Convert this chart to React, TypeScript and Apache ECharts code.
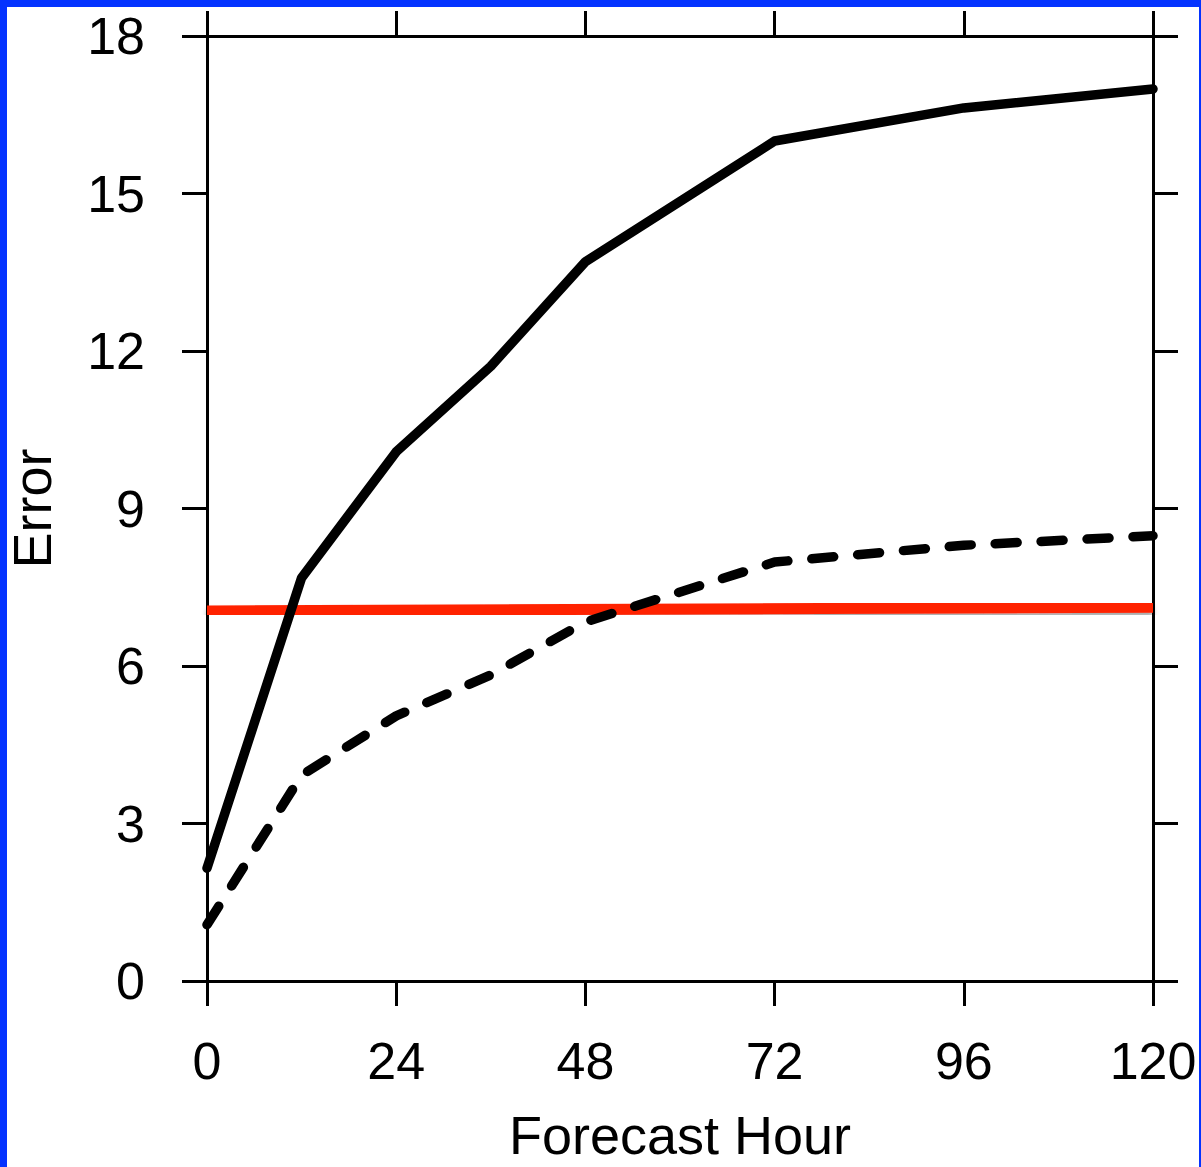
import React, { useEffect, useRef } from "react";
import * as echarts from "echarts";

const hours = [0, 12, 24, 36, 48, 72, 96, 120];
const solidError = [2.15, 7.68, 10.08, 11.71, 13.7, 16.0, 16.63, 16.99];
const dashedError = [1.07, 3.92, 5.05, 5.83, 6.84, 7.98, 8.3, 8.48];
const refHours = [0, 120];
const refError = [7.05, 7.12];
const xTicks = [0, 24, 48, 72, 96, 120];
const yTicks = [0, 3, 6, 9, 12, 15, 18];

const FONT = "'Liberation Sans', Arial, Helvetica, sans-serif";

export default function App() {
  const ref = useRef<HTMLDivElement>(null);
  useEffect(() => {
    if (!ref.current) return;
    const chart = echarts.init(ref.current, null, { renderer: "svg" });
    const axisLine = { show: true, onZero: false, lineStyle: { color: "#000", width: 3 } };
    const axisTick = { show: true, inside: false, length: 25, lineStyle: { color: "#000", width: 3 } };
    const pair = (xs: number[], ys: number[]) => xs.map((x, i) => [x, ys[i]]);
    chart.setOption({
      animation: false,
      backgroundColor: "#fff",
      grid: { left: 207, right: 48, top: 36, bottom: 186, containLabel: false, outerBoundsMode: "none" },
      xAxis: [
        {
          type: "value",
          position: "bottom",
          min: xTicks[0],
          max: xTicks[xTicks.length - 1],
          interval: 24,
          axisLine,
          axisTick,
          splitLine: { show: false },
          axisLabel: { color: "#000", fontSize: 52, fontFamily: FONT, margin: 54 },
          name: "Forecast Hour",
          nameLocation: "middle",
          nameGap: 129,
          nameTextStyle: { color: "#000", fontSize: 54, fontFamily: FONT, lineHeight: 50 },
        },
        {
          type: "value",
          position: "top",
          min: xTicks[0],
          max: xTicks[xTicks.length - 1],
          interval: 24,
          axisLine,
          axisTick,
          splitLine: { show: false },
          axisLabel: { show: false },
        },
      ],
      yAxis: [
        {
          type: "value",
          position: "left",
          min: yTicks[0],
          max: yTicks[yTicks.length - 1],
          interval: 3,
          axisLine,
          axisTick,
          splitLine: { show: false },
          axisLabel: { color: "#000", fontSize: 52, fontFamily: FONT, margin: 62 },
          name: "Error",
          nameLocation: "middle",
          nameGap: 148,
          nameRotate: 90,
          nameTextStyle: { color: "#000", fontSize: 54, fontFamily: FONT },
        },
        {
          type: "value",
          position: "right",
          min: yTicks[0],
          max: yTicks[yTicks.length - 1],
          interval: 3,
          axisLine,
          axisTick,
          splitLine: { show: false },
          axisLabel: { show: false },
        },
      ],
      series: [
        {
          type: "line",
          data: pair(refHours, refError),
          symbol: "none",
          z: 3,
          lineStyle: {
            color: "#ff2200",
            width: 11,
            shadowColor: "rgba(0,0,0,0.35)",
            shadowBlur: 5,
            shadowOffsetY: 4,
          },
        },
        {
          type: "line",
          data: pair(hours, dashedError),
          symbol: "none",
          z: 4,
          lineStyle: { color: "#000", width: 9.5, type: [22, 24], cap: "round", join: "round" },
        },
        {
          type: "line",
          data: pair(hours, solidError),
          symbol: "none",
          z: 5,
          lineStyle: { color: "#000", width: 9.5, cap: "round", join: "round" },
        },
      ],
      graphic: [
        { type: "rect", left: 0, top: 0, shape: { width: 1201, height: 7 }, style: { fill: "#0433ff" }, z: 100 },
        { type: "rect", left: 0, top: 0, shape: { width: 7, height: 1167 }, style: { fill: "#0433ff" }, z: 100 },
        { type: "rect", right: 0, top: 0, shape: { width: 2, height: 1167 }, style: { fill: "#0433ff" }, z: 100 },
      ],
    });
    return () => chart.dispose();
  }, []);
  return (
    <div
      ref={ref}
      style={{ position: "fixed", left: 0, top: 0, width: 1201, height: 1167 }}
    />
  );
}
